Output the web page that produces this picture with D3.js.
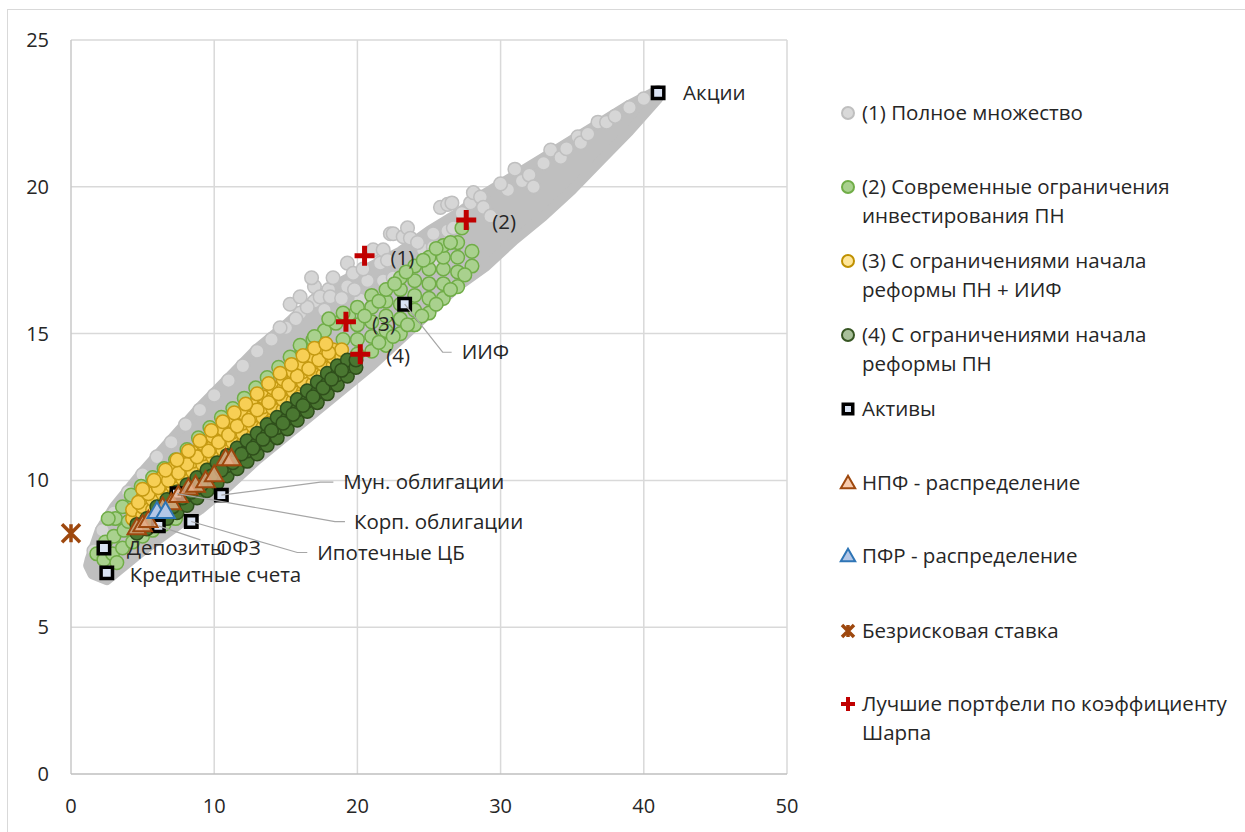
<!DOCTYPE html>
<html>
<head>
<meta charset="utf-8">
<script src="https://cdn.jsdelivr.net/npm/d3@7"></script>
<style>
  body { margin: 0; background: #fff; }
  text { font-family: "Open Sans", sans-serif; fill: #262626; }
</style>
</head>
<body>
<svg id="chart" width="1245" height="832"></svg>
<script>
// axis ticks
const xTicks = [0, 10, 20, 30, 40, 50];
const yTicks = [0, 5, 10, 15, 20, 25];

// (1) full set: outline of the dense core, then the loose points around it
const fullSetCore = [
  [1.3, 7.3], [2, 8.3], [3, 9.1], [5, 10.3], [7, 11.4], [9, 12.5], [11, 13.5], [13, 14.5],
  [15, 15.3], [17, 16.2], [19, 16.8], [21, 17.3], [23, 17.8], [25, 18.5], [27, 19.1],
  [29, 19.8], [31, 20.4], [33, 21.0], [35, 21.6], [37, 22.2], [39, 22.8], [41, 23.3],
  [41, 23.0], [39, 21.9], [37, 20.9], [35, 19.9], [33, 19.0], [31, 18.2], [29, 17.3],
  [27, 16.6], [25, 15.7], [23, 14.8], [21, 13.9], [19, 13.1], [17, 12.3], [15, 11.5],
  [13, 10.7], [11, 9.8], [9, 9.0], [7, 8.3], [5, 7.6], [3.5, 7.0], [2.5, 6.6], [1.5, 6.8], [1.2, 7.1]
];
const fullSetPoints = [
  [1.6, 7.6], [2.2, 8.3], [3.0, 8.9], [4.0, 9.6], [5.0, 10.2], [6.0, 10.8], [7.0, 11.3],
  [8.0, 11.9], [9.0, 12.4], [10.0, 12.9], [11.0, 13.4], [12.0, 13.9], [13.0, 14.4],
  [14.0, 14.8], [15.0, 15.2], [16.0, 15.7], [17.0, 16.1], [14.6, 15.2], [15.7, 15.5],
  [16.5, 15.9], [18.0, 16.5], [15.3, 16.0], [16.0, 16.25], [17.0, 16.6], [17.4, 16.25],
  [18.1, 16.25], [18.3, 16.9], [19.3, 16.6], [19.3, 17.4], [19.7, 17.05], [20.2, 16.15],
  [20.7, 16.8], [21.1, 17.85], [21.6, 17.4], [21.8, 16.8], [21.8, 17.85], [22.1, 17.5],
  [22.3, 18.4], [22.5, 16.9], [22.5, 18.4], [23.2, 18.3], [23.5, 18.6], [23.7, 18.25],
  [24.6, 17.85], [25.3, 17.95], [25.3, 18.4], [25.6, 17.5], [25.8, 19.3], [26.3, 19.4],
  [26.6, 19.45], [26.3, 18.5], [26.7, 18.6], [27.9, 19.45], [28.1, 19.8], [28.6, 19.65],
  [28.8, 19.3], [29.3, 19.0], [30.5, 19.9], [31.0, 20.6], [31.5, 20.2], [32.0, 20.4],
  [32.3, 20.0], [33.5, 21.25], [34.2, 21.0], [35.4, 21.7], [35.6, 21.5], [36.1, 21.8],
  [36.8, 22.2], [37.4, 22.2], [38.0, 22.4], [39.0, 22.7], [40.0, 23.0], [18.9, 16.2],
  [19.8, 16.5], [17.7, 15.8], [16.8, 16.9], [20.4, 17.2], [24.2, 18.1], [30.0, 20.1],
  [27.3, 19.1], [33.0, 20.8], [34.6, 21.3]
];

// (2) current investment limits
const currentLimitsPoints = [
  [1.8, 7.5], [2.3, 7.3], [2.4, 7.9], [2.9, 7.5], [3.0, 8.1], [3.1, 8.7], [3.6, 7.7],
  [3.7, 8.3], [3.6, 9.1], [4.3, 7.9], [4.2, 9.5], [5.0, 8.1], [4.9, 9.8], [5.7, 8.3],
  [5.7, 10.1], [6.5, 8.5], [6.5, 10.4], [7.3, 8.7], [7.3, 10.7], [8.1, 11.05], [8.9, 11.45],
  [9.7, 11.8], [10.5, 12.15], [11.3, 12.45], [12.1, 12.8], [12.9, 13.15], [13.7, 13.5],
  [14.5, 13.85], [15.3, 14.2], [16.1, 14.5], [16.9, 14.8], [17.7, 15.1], [18.5, 15.35],
  [19.4, 15.6], [20.0, 15.9], [21.0, 16.3], [16.0, 14.6], [17.0, 14.9], [18.0, 15.5],
  [19.0, 14.8], [19.0, 15.7], [20.0, 14.3], [20.0, 14.8], [20.0, 15.3], [21.0, 14.4],
  [21.0, 14.9], [21.0, 15.4], [21.0, 15.9], [22.0, 14.6], [22.0, 15.1], [22.0, 15.6],
  [22.0, 16.1], [22.0, 16.5], [23.0, 15.0], [23.0, 15.5], [23.0, 16.0], [23.0, 16.5],
  [23.0, 16.9], [24.0, 15.3], [24.0, 15.8], [24.0, 16.3], [24.0, 16.8], [24.0, 17.3],
  [25.0, 15.7], [25.0, 16.2], [25.0, 16.7], [25.0, 17.2], [25.0, 17.6], [26.0, 16.2],
  [26.0, 16.7], [26.0, 17.2], [26.0, 17.6], [26.0, 18.0], [27.0, 16.6], [27.0, 17.1],
  [27.0, 17.6], [27.0, 18.1], [28.0, 17.3], [28.0, 17.8], [27.3, 18.6], [20.5, 15.6],
  [21.5, 16.1], [22.6, 16.7], [23.4, 17.1], [24.6, 17.5], [25.5, 17.9], [26.5, 18.1],
  [21.5, 14.7], [22.5, 14.9], [23.5, 15.3], [24.5, 15.6], [25.5, 16.0], [26.5, 16.5],
  [27.5, 17.0], [2.6, 8.7], [3.2, 7.2], [4.0, 8.6]
];

// (3) reform-start limits + IIF
const reformIifPoints = [
  [4.3, 8.7], [4.3, 9.0], [5.0, 8.8], [5.0, 9.1], [5.0, 9.4], [5.7, 9.0], [5.7, 9.35],
  [5.7, 9.7], [6.4, 9.2], [6.4, 9.55], [6.4, 9.9], [6.4, 10.1], [7.1, 9.45], [7.1, 9.8],
  [7.1, 10.15], [7.1, 10.4], [7.8, 9.7], [7.8, 10.05], [7.8, 10.4], [7.8, 10.7],
  [8.5, 9.95], [8.5, 10.3], [8.5, 10.65], [8.5, 10.95], [9.2, 10.2], [9.2, 10.55],
  [9.2, 10.9], [9.2, 11.25], [9.9, 10.45], [9.9, 10.8], [9.9, 11.15], [9.9, 11.5],
  [10.6, 10.7], [10.6, 11.05], [10.6, 11.4], [10.6, 11.75], [11.3, 10.95], [11.3, 11.3],
  [11.3, 11.65], [11.3, 12.0], [12.0, 11.25], [12.0, 11.6], [12.0, 11.95], [12.0, 12.3],
  [12.7, 11.5], [12.7, 11.85], [12.7, 12.2], [12.7, 12.55], [13.4, 11.8], [13.4, 12.15],
  [13.4, 12.5], [13.4, 12.85], [14.1, 12.1], [14.1, 12.45], [14.1, 12.8], [14.1, 13.15],
  [14.8, 12.4], [14.8, 12.75], [14.8, 13.1], [14.8, 13.45], [15.5, 12.7], [15.5, 13.05],
  [15.5, 13.4], [15.5, 13.7], [16.2, 13.0], [16.2, 13.35], [16.2, 13.7], [16.2, 13.95],
  [16.9, 13.3], [16.9, 13.65], [16.9, 14.0], [16.9, 14.2], [17.6, 13.6], [17.6, 13.95],
  [17.6, 14.25], [17.6, 14.45], [18.3, 13.9], [18.3, 14.2], [18.3, 14.45], [18.9, 14.2],
  [18.9, 14.45], [4.7, 9.25], [5.4, 9.55], [6.1, 9.75], [6.8, 10.0], [7.5, 10.25],
  [8.1, 10.55], [8.8, 10.8], [9.6, 11.0], [10.3, 11.3], [11.0, 11.55], [11.6, 11.85],
  [12.4, 12.05], [13.0, 12.4], [13.8, 12.65], [14.5, 12.95], [15.2, 13.25], [15.8, 13.55],
  [16.6, 13.8], [17.3, 14.1], [18.0, 14.35], [7.4, 9.6], [9.5, 10.35], [11.7, 11.1],
  [13.8, 11.95], [16.0, 12.85], [5.0, 9.7], [5.8, 10.0], [6.6, 10.35], [7.4, 10.7],
  [8.2, 11.0], [9.0, 11.35], [9.8, 11.7], [10.6, 12.0], [11.4, 12.3], [12.2, 12.6],
  [13.0, 12.95], [13.8, 13.3], [14.6, 13.65], [15.4, 13.95], [16.2, 14.25], [17.0, 14.5],
  [17.8, 14.65]
];

// (4) reform-start limits
const reformPoints = [
  [4.6, 8.2], [4.6, 8.5], [5.3, 8.35], [5.3, 8.7], [6.0, 8.5], [6.0, 8.85], [6.0, 9.1],
  [6.7, 8.7], [6.7, 9.05], [6.7, 9.35], [7.4, 8.9], [7.4, 9.25], [7.4, 9.6], [8.1, 9.15],
  [8.1, 9.5], [8.1, 9.85], [8.8, 9.4], [8.8, 9.75], [8.8, 10.1], [9.5, 9.65], [9.5, 10.0],
  [9.5, 10.35], [10.2, 9.9], [10.2, 10.25], [10.2, 10.6], [10.9, 10.15], [10.9, 10.5],
  [10.9, 10.85], [11.6, 10.4], [11.6, 10.75], [11.6, 11.1], [12.3, 10.65], [12.3, 11.0],
  [12.3, 11.35], [13.0, 10.9], [13.0, 11.25], [13.0, 11.6], [13.7, 11.2], [13.7, 11.55],
  [13.7, 11.9], [14.4, 11.45], [14.4, 11.8], [14.4, 12.15], [15.1, 11.75], [15.1, 12.1],
  [15.1, 12.45], [15.8, 12.05], [15.8, 12.4], [15.8, 12.75], [16.5, 12.35], [16.5, 12.7],
  [16.5, 13.05], [17.2, 12.65], [17.2, 13.0], [17.2, 13.35], [17.9, 12.95], [17.9, 13.3],
  [17.9, 13.65], [18.6, 13.25], [18.6, 13.6], [18.6, 13.9], [19.3, 13.55], [19.3, 13.9],
  [19.3, 14.1], [19.9, 13.85], [19.9, 14.1], [5.6, 8.55], [6.4, 8.95], [7.1, 9.1],
  [7.8, 9.4], [8.4, 9.6], [9.1, 9.85], [9.8, 10.15], [10.5, 10.35], [11.3, 10.6],
  [11.9, 10.9], [12.7, 11.1], [13.4, 11.4], [14.0, 11.7], [14.8, 11.95], [15.5, 12.25],
  [16.2, 12.55], [16.9, 12.85], [17.6, 13.15], [18.2, 13.45], [18.9, 13.75]
];

// assets
const assetNames = ["Акции", "ИИФ", "Мун. облигации", "Корп. облигации", "Ипотечные ЦБ", "ОФЗ", "Депозиты", "Кредитные счета"];
const assetRisk = [41.0, 23.3, 10.5, 7.4, 8.4, 6.1, 2.3, 2.5];
const assetReturn = [23.2, 16.0, 9.5, 9.55, 8.6, 8.45, 7.7, 6.85];

// NPF and PFR allocations
const npfPoints = [
  [4.6, 8.35], [5.0, 8.45], [5.4, 8.6], [6.4, 9.05], [7.0, 9.2], [7.5, 9.45], [8.2, 9.7],
  [8.7, 9.8], [9.4, 9.95], [10.0, 10.15], [10.8, 10.7], [11.2, 10.7]
];
const pfrPoints = [[6.0, 8.9], [6.6, 8.9]];

// risk free rate
const riskFree = [[0, 8.2]];

// best portfolios by Sharpe ratio
const sharpeLabels = ["(1)", "(2)", "(3)", "(4)"];
const sharpeRisk = [20.5, 27.6, 19.2, 20.2];
const sharpeReturn = [17.65, 18.87, 15.4, 14.3];

// legend
const legendLines = [
  ["(1) Полное множество"],
  ["(2) Современные ограничения", "инвестирования ПН"],
  ["(3) С ограничениями начала", "реформы ПН + ИИФ"],
  ["(4) С ограничениями начала", "реформы ПН"],
  ["Активы"],
  ["НПФ - распределение"],
  ["ПФР - распределение"],
  ["Безрисковая ставка"],
  ["Лучшие портфели по коэффициенту", "Шарпа"]
];

const FONT = "20.5px";
const svg = d3.select("#chart");
const x = d3.scaleLinear().domain([0, 50]).range([71, 787]);
const y = d3.scaleLinear().domain([0, 25]).range([774, 40]);

// chart border
svg.append("rect")
  .attr("x", 7.5).attr("y", 9.5).attr("width", 1240).attr("height", 830)
  .attr("fill", "none").attr("stroke", "#d9d9d9");

// grid
const grid = svg.append("g");
grid.selectAll(".gx").data(xTicks.filter(d => d > 0)).enter().append("line")
  .attr("x1", d => x(d)).attr("x2", d => x(d)).attr("y1", y(0)).attr("y2", y(25))
  .attr("stroke", "#d9d9d9").attr("stroke-width", 1.5);
grid.selectAll(".gy").data(yTicks.filter(d => d > 0)).enter().append("line")
  .attr("x1", x(0)).attr("x2", x(50)).attr("y1", d => y(d)).attr("y2", d => y(d))
  .attr("stroke", "#d9d9d9").attr("stroke-width", 1.5);
grid.append("line").attr("x1", x(0)).attr("x2", x(0)).attr("y1", y(0)).attr("y2", y(25))
  .attr("stroke", "#c8c8c8").attr("stroke-width", 1.5);
grid.append("line").attr("x1", x(0)).attr("x2", x(50)).attr("y1", y(0)).attr("y2", y(0))
  .attr("stroke", "#bfbfbf").attr("stroke-width", 1.5);

// tick labels
svg.selectAll(".yt").data(yTicks).enter().append("text")
  .attr("x", 49).attr("y", d => y(d)).attr("dy", "0.35em")
  .attr("text-anchor", "end").style("font-size", "20px").text(d => d);
svg.selectAll(".xt").data(xTicks).enter().append("text")
  .attr("x", d => x(d)).attr("y", 806).attr("dy", "0.35em")
  .attr("text-anchor", "middle").style("font-size", "20px").text(d => d);

// scatter clouds
const plot = svg.append("g");
plot.append("path")
  .datum(fullSetCore)
  .attr("d", d3.line().x(d => x(d[0])).y(d => y(d[1])).curve(d3.curveLinearClosed))
  .attr("fill", "#bfbfbf").attr("stroke", "#bfbfbf").attr("stroke-width", 10)
  .attr("stroke-linejoin", "round");

function cloud(points, fill, stroke) {
  plot.append("g").selectAll("circle").data(points).enter().append("circle")
    .attr("cx", d => x(d[0])).attr("cy", d => y(d[1])).attr("r", 6.8)
    .attr("fill", fill).attr("stroke", stroke).attr("stroke-width", 1.5);
}
cloud(fullSetPoints, "#d6d6d6", "#bfbfbf");
cloud(currentLimitsPoints, "#a9d18e", "#70ad47");
cloud(reformIifPoints, "#f7cf55", "#c59a12");
cloud(reformPoints, "#4a7731", "#2f4f1b");

// assets
const assets = assetNames.map((n, i) => ({ name: n, x: assetRisk[i], y: assetReturn[i] }));
const squareSym = d3.symbol(d3.symbolSquare, 130);
plot.append("g").selectAll("path").data(assets).enter().append("path")
  .attr("d", squareSym)
  .attr("transform", d => `translate(${x(d.x)},${y(d.y)})`)
  .attr("fill", "#dae3f3").attr("stroke", "#000").attr("stroke-width", 3.5);

// triangles
const triSym = d3.symbol(d3.symbolTriangle, 150);
plot.append("g").selectAll("path").data(npfPoints).enter().append("path")
  .attr("d", triSym)
  .attr("transform", d => `translate(${x(d[0])},${y(d[1])})`)
  .attr("fill", "#e9b08c").attr("fill-opacity", 0.8)
  .attr("stroke", "#9e480e").attr("stroke-width", 2);
plot.append("g").selectAll("path").data(pfrPoints).enter().append("path")
  .attr("d", triSym)
  .attr("transform", d => `translate(${x(d[0])},${y(d[1])})`)
  .attr("fill", "#b4c7e7").attr("stroke", "#2e75b6").attr("stroke-width", 2);

// risk free marker
function starPath(s) {
  return `M${-s},${-s}L${s},${s}M${s},${-s}L${-s},${s}M0,${-s}L0,${s}`;
}
plot.selectAll(".rf").data(riskFree).enter().append("path")
  .attr("d", starPath(9))
  .attr("transform", d => `translate(${x(d[0])},${y(d[1])})`)
  .attr("stroke", "#9e480e").attr("stroke-width", 3.5).attr("fill", "none");

// sharpe crosses
function plusPath(s) {
  return `M${-s},0L${s},0M0,${-s}L0,${s}`;
}
const sharpe = sharpeLabels.map((l, i) => ({ label: l, x: sharpeRisk[i], y: sharpeReturn[i] }));
plot.append("g").selectAll("path").data(sharpe).enter().append("path")
  .attr("d", plusPath(10))
  .attr("transform", d => `translate(${x(d.x)},${y(d.y)})`)
  .attr("stroke", "#c00000").attr("stroke-width", 5).attr("fill", "none");
svg.append("g").selectAll("text").data(sharpe).enter().append("text")
  .attr("x", d => x(d.x) + 26).attr("y", d => y(d.y) + 2).attr("dy", "0.35em")
  .style("font-size", FONT).text(d => d.label);

// asset labels: text offset and leader elbow, in pixels from the marker
const labelLayout = {
  "Акции": { dx: 25, dy: 0 },
  "ИИФ": { dx: 57, dy: 48, leader: [[38, 48], [47, 48]] },
  "Мун. облигации": { dx: 122, dy: -13, leader: [[99, -13], [112, -13]] },
  "Корп. облигации": { dx: 177, dy: 28, leader: [[158, 28], [168, 28]] },
  "Ипотечные ЦБ": { dx: 126, dy: 31, leader: [[106, 31], [116, 31]] },
  "ОФЗ": { dx: 58, dy: 22, leader: [[42, 14]] },
  "Депозиты": { dx: 23, dy: 0 },
  "Кредитные счета": { dx: 23, dy: 2 }
};
const labels = svg.append("g");
assets.forEach(a => {
  const L = labelLayout[a.name];
  const px = x(a.x), py = y(a.y);
  if (L.leader) {
    const pts = [[px, py]].concat(L.leader.map(p => [px + p[0], py + p[1]]));
    labels.append("path").attr("d", d3.line()(pts))
      .attr("fill", "none").attr("stroke", "#a6a6a6").attr("stroke-width", 1.2);
  }
  labels.append("text").attr("x", px + L.dx).attr("y", py + L.dy).attr("dy", "0.35em")
    .style("font-size", FONT).text(a.name);
});

// legend
const legendY = [113, 187, 261, 335, 409, 483, 556, 631, 704];
const lg = svg.append("g");
legendLines.forEach((lines, i) => {
  lines.forEach((t, j) => {
    lg.append("text").attr("x", 862).attr("y", legendY[i] + j * 29).attr("dy", "0.35em")
      .style("font-size", FONT).text(t);
  });
});
const mx = 848;
const circleKeys = [["#d9d9d9", "#bfbfbf"], ["#a9d18e", "#70ad47"], ["#ffe699", "#bf9000"], ["#a9c09a", "#375623"]];
circleKeys.forEach((c, i) => {
  lg.append("circle").attr("cx", mx).attr("cy", legendY[i]).attr("r", 6)
    .attr("fill", c[0]).attr("stroke", c[1]).attr("stroke-width", 2);
});
lg.append("path").attr("d", d3.symbol(d3.symbolSquare, 90)())
  .attr("transform", `translate(${mx},${legendY[4]})`)
  .attr("fill", "#dae3f3").attr("stroke", "#000").attr("stroke-width", 3.5);
lg.append("path").attr("d", d3.symbol(d3.symbolTriangle, 90)())
  .attr("transform", `translate(${mx},${legendY[5] + 1})`)
  .attr("fill", "#f8cbad").attr("stroke", "#9e480e").attr("stroke-width", 2);
lg.append("path").attr("d", d3.symbol(d3.symbolTriangle, 90)())
  .attr("transform", `translate(${mx},${legendY[6] + 1})`)
  .attr("fill", "#b4c7e7").attr("stroke", "#2e75b6").attr("stroke-width", 2);
lg.append("path").attr("d", starPath(6))
  .attr("transform", `translate(${mx},${legendY[7]})`)
  .attr("stroke", "#9e480e").attr("stroke-width", 3.5).attr("fill", "none");
lg.append("path").attr("d", plusPath(7))
  .attr("transform", `translate(${mx},${legendY[8]})`)
  .attr("stroke", "#c00000").attr("stroke-width", 4).attr("fill", "none");
</script>
</body>
</html>
